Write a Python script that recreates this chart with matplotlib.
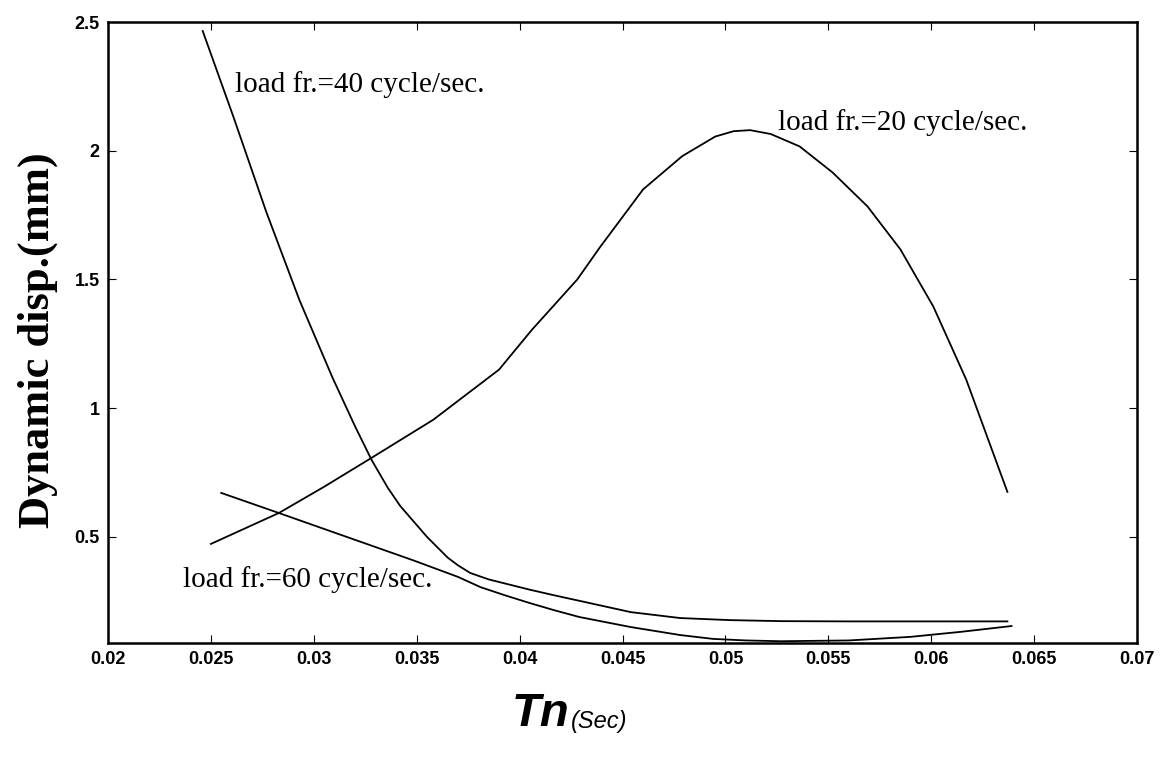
import matplotlib
matplotlib.use('Agg')
import matplotlib.pyplot as plt

####################################################################################################

# Tn (sec) / dynamic displacement (mm)
tn_20 = [0.0250, 0.0283, 0.0305, 0.0328, 0.0358, 0.0390, 0.0406, 0.0428, 0.0439, 0.0460,
         0.0479, 0.0495, 0.0504, 0.0512, 0.0522, 0.0536, 0.0552, 0.0569, 0.0585, 0.0601,
         0.0617, 0.0637]
disp_20 = [0.473, 0.593, 0.695, 0.807, 0.955, 1.15, 1.305, 1.50, 1.625, 1.85,
           1.979, 2.055, 2.076, 2.08, 2.065, 2.017, 1.916, 1.784, 1.617, 1.395,
           1.111, 0.675]

tn_40 = [0.0246, 0.0261, 0.0277, 0.0293, 0.0309, 0.0320, 0.0328, 0.0336, 0.0342, 0.0355,
         0.0365, 0.0370, 0.0376, 0.0385, 0.0395, 0.0405, 0.0417, 0.0429, 0.0454, 0.0478,
         0.0502, 0.0527, 0.0560, 0.0600, 0.0637]
disp_40 = [2.465, 2.13, 1.76, 1.42, 1.12, 0.93, 0.80, 0.69, 0.62, 0.50,
           0.42, 0.39, 0.36, 0.335, 0.315, 0.295, 0.273, 0.252, 0.208, 0.185,
           0.177, 0.173, 0.172, 0.172, 0.172]

tn_60 = [0.0255, 0.0283, 0.0310, 0.0348, 0.0370, 0.0381, 0.0393, 0.0405, 0.0417, 0.0429,
         0.0454, 0.0478, 0.0494, 0.0510, 0.0527, 0.0560, 0.0590, 0.0615, 0.0639]
disp_60 = [0.671, 0.593, 0.517, 0.41, 0.345, 0.305, 0.273, 0.243, 0.215, 0.189,
           0.150, 0.119, 0.104, 0.098, 0.095, 0.098, 0.112, 0.132, 0.154]

labels = ['load fr.=20 cycle/sec.', 'load fr.=40 cycle/sec.', 'load fr.=60 cycle/sec.']

x_ticks = [0.02, 0.025, 0.03, 0.035, 0.04, 0.045, 0.05, 0.055, 0.06, 0.065, 0.07]
x_tick_labels = ['0.02', '0.025', '0.03', '0.035', '0.04', '0.045', '0.05', '0.055', '0.06',
                 '0.065', '0.07']
y_ticks = [0.5, 1, 1.5, 2, 2.5]
y_tick_labels = ['0.5', '1', '1.5', '2', '2.5']

####################################################################################################

figure = plt.figure(figsize=(11.68, 7.59), dpi=100)
ax = figure.add_axes([0.0925, 0.1528, 0.881, 0.8182])

for tn, disp in ((tn_20, disp_20), (tn_40, disp_40), (tn_60, disp_60)):
    ax.plot(tn, disp, color='black', lw=1.3, solid_joinstyle='round')

ax.set_xlim(0.02, 0.07)
ax.set_ylim(0.088, 2.5)

ax.set_xticks(x_ticks)
ax.set_xticklabels(x_tick_labels, fontsize=13, fontweight='bold', family='Liberation Sans')
ax.set_yticks(y_ticks)
ax.set_yticklabels(y_tick_labels, fontsize=13, fontweight='bold', family='Liberation Sans')
ax.tick_params(direction='in', length=6, width=0.8, top=True, right=True, pad=6)
for spine in ax.spines.values():
    spine.set_linewidth(1.8)

serif = 'Liberation Serif'
ax.text(0.02617, 2.259, labels[1], fontsize=21, family=serif, ha='left', va='center')
ax.text(0.05256, 2.111, labels[0], fontsize=21, family=serif, ha='left', va='center')
ax.text(0.02364, 0.333, labels[2], fontsize=21, family=serif, ha='left', va='center')

figure.text(0.0325, 0.552, 'Dynamic disp.(mm)', rotation=90, fontsize=32, fontweight='bold',
            family=serif, ha='center', va='center')
figure.text(0.438, 0.043, 'Tn', fontsize=34, fontweight='bold', style='italic',
            family='Liberation Sans', ha='left', va='baseline')
figure.text(0.489, 0.041, '(Sec)', fontsize=17, style='italic',
            family='Liberation Sans', ha='left', va='baseline')

figure.savefig('out.png', dpi=100)
